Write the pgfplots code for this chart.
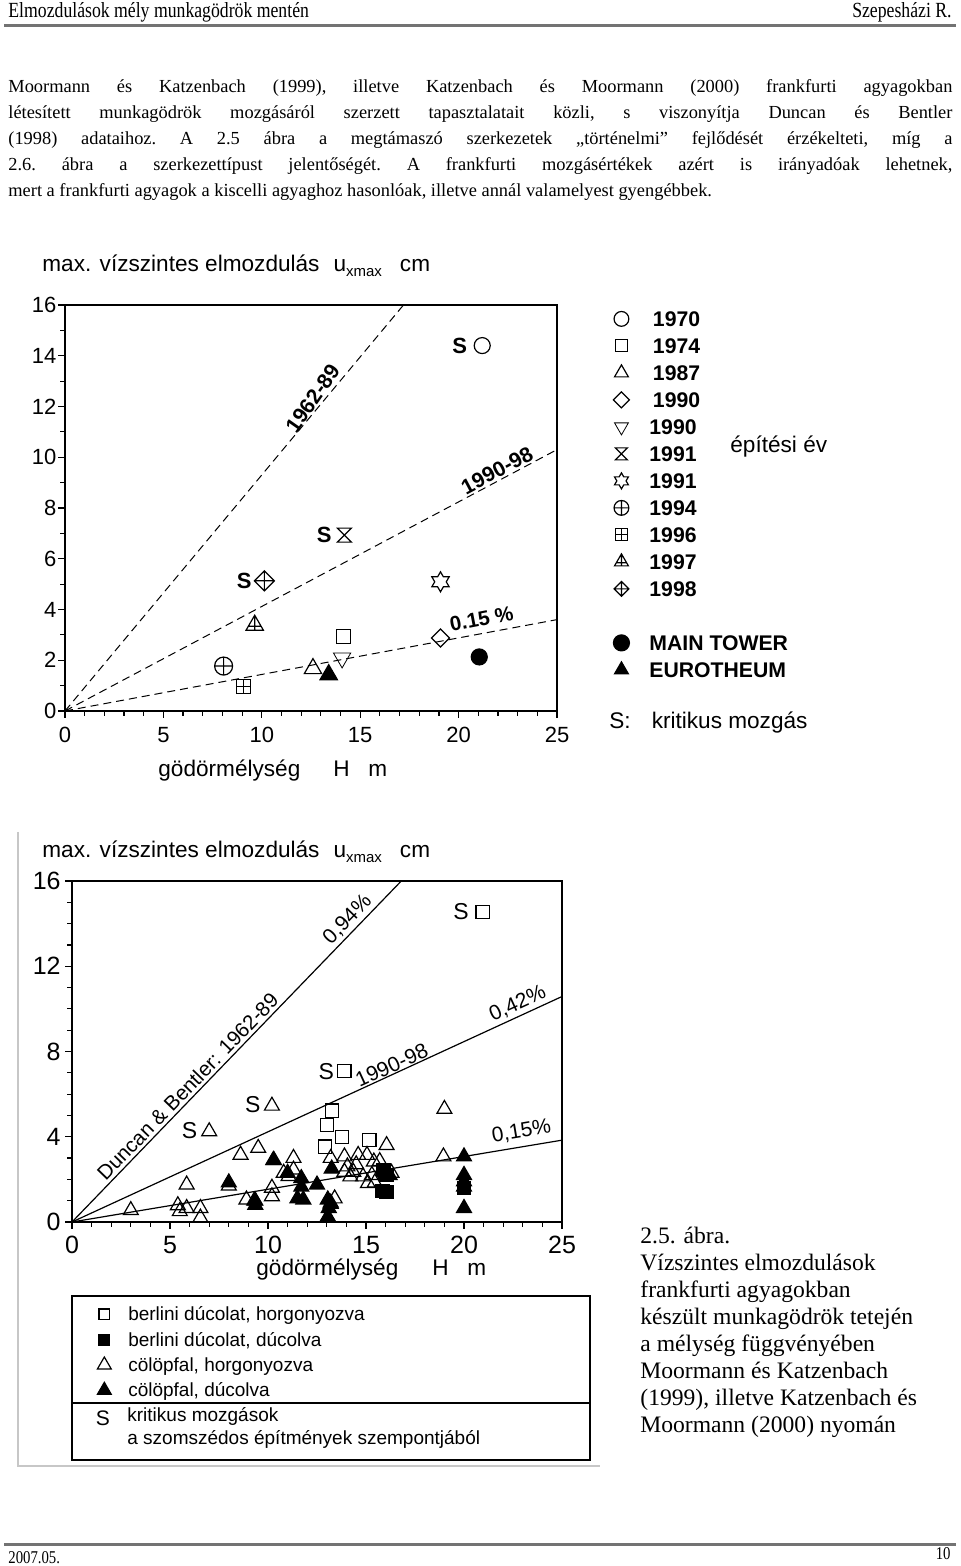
\documentclass[border=0pt]{standalone}
\usepackage{fontspec}
\setmainfont{Liberation Serif}
\setsansfont{Liberation Sans}
\newfontfamily\condfont{Liberation Serif}[FakeStretch=0.82]
\usepackage{pgfplots}
\pgfplotsset{compat=1.18}

\pgfdeclareplotmark{hourglass}{%
  \pgfpathmoveto{\pgfqpoint{-\pgfplotmarksize}{\pgfplotmarksize}}%
  \pgfpathlineto{\pgfqpoint{\pgfplotmarksize}{\pgfplotmarksize}}%
  \pgfpathlineto{\pgfqpoint{-\pgfplotmarksize}{-\pgfplotmarksize}}%
  \pgfpathlineto{\pgfqpoint{\pgfplotmarksize}{-\pgfplotmarksize}}%
  \pgfpathclose\pgfusepathqstroke}
\pgfdeclareplotmark{hexagram}{%
  \pgfpathmoveto{\pgfpointpolar{90}{\pgfplotmarksize}}%
  \pgfpathlineto{\pgfpointpolar{120}{0.577\pgfplotmarksize}}%
  \pgfpathlineto{\pgfpointpolar{150}{\pgfplotmarksize}}%
  \pgfpathlineto{\pgfpointpolar{180}{0.577\pgfplotmarksize}}%
  \pgfpathlineto{\pgfpointpolar{210}{\pgfplotmarksize}}%
  \pgfpathlineto{\pgfpointpolar{240}{0.577\pgfplotmarksize}}%
  \pgfpathlineto{\pgfpointpolar{270}{\pgfplotmarksize}}%
  \pgfpathlineto{\pgfpointpolar{300}{0.577\pgfplotmarksize}}%
  \pgfpathlineto{\pgfpointpolar{330}{\pgfplotmarksize}}%
  \pgfpathlineto{\pgfpointpolar{0}{0.577\pgfplotmarksize}}%
  \pgfpathlineto{\pgfpointpolar{30}{\pgfplotmarksize}}%
  \pgfpathlineto{\pgfpointpolar{60}{0.577\pgfplotmarksize}}%
  \pgfpathclose\pgfusepathqstroke}
\pgfdeclareplotmark{boxplus}{%
  \pgfpathrectangle{\pgfqpoint{-\pgfplotmarksize}{-\pgfplotmarksize}}{\pgfpoint{2\pgfplotmarksize}{2\pgfplotmarksize}}%
  \pgfpathmoveto{\pgfqpoint{-\pgfplotmarksize}{0pt}}\pgfpathlineto{\pgfqpoint{\pgfplotmarksize}{0pt}}%
  \pgfpathmoveto{\pgfqpoint{0pt}{-\pgfplotmarksize}}\pgfpathlineto{\pgfqpoint{0pt}{\pgfplotmarksize}}%
  \pgfusepathqstroke}
\pgfdeclareplotmark{triplus}{%
  \pgfpathmoveto{\pgfpoint{0pt}{\pgfplotmarksize}}%
  \pgfpathlineto{\pgfpoint{-0.866\pgfplotmarksize}{-0.5\pgfplotmarksize}}%
  \pgfpathlineto{\pgfpoint{0.866\pgfplotmarksize}{-0.5\pgfplotmarksize}}%
  \pgfpathclose
  \pgfpathmoveto{\pgfpoint{0pt}{\pgfplotmarksize}}\pgfpathlineto{\pgfpoint{0pt}{-0.5\pgfplotmarksize}}%
  \pgfpathmoveto{\pgfpoint{-0.635\pgfplotmarksize}{-0.1\pgfplotmarksize}}\pgfpathlineto{\pgfpoint{0.635\pgfplotmarksize}{-0.1\pgfplotmarksize}}%
  \pgfusepathqstroke}
\pgfdeclareplotmark{rhomb}{%
  \pgfpathmoveto{\pgfqpoint{0pt}{\pgfplotmarksize}}%
  \pgfpathlineto{\pgfqpoint{\pgfplotmarksize}{0pt}}%
  \pgfpathlineto{\pgfqpoint{0pt}{-\pgfplotmarksize}}%
  \pgfpathlineto{\pgfqpoint{-\pgfplotmarksize}{0pt}}%
  \pgfpathclose\pgfusepathqstroke}
\pgfdeclareplotmark{rhombplus}{%
  \pgfpathmoveto{\pgfqpoint{0pt}{\pgfplotmarksize}}%
  \pgfpathlineto{\pgfqpoint{\pgfplotmarksize}{0pt}}%
  \pgfpathlineto{\pgfqpoint{0pt}{-\pgfplotmarksize}}%
  \pgfpathlineto{\pgfqpoint{-\pgfplotmarksize}{0pt}}%
  \pgfpathclose
  \pgfpathmoveto{\pgfqpoint{-\pgfplotmarksize}{0pt}}\pgfpathlineto{\pgfqpoint{\pgfplotmarksize}{0pt}}%
  \pgfpathmoveto{\pgfqpoint{0pt}{-\pgfplotmarksize}}\pgfpathlineto{\pgfqpoint{0pt}{\pgfplotmarksize}}%
  \pgfusepathqstroke}

\newcommand\bodyfont{\fontsize{9.2}{12}\selectfont\frenchspacing}
\newcommand\capfont{\fontsize{11.8}{14}\selectfont}
\newcommand\lblfont{\sffamily\fontsize{11.3}{13}\selectfont}

\begin{document}
\begin{tikzpicture}
\path[use as bounding box, fill=white] (0,0) rectangle (480pt,783pt);

% ---------------- top chart ----------------
\begin{axis}[at={(32.5pt,427.5pt)}, anchor=south west, scale only axis,
  width=246pt, height=203pt,
  xmin=0, xmax=25, ymin=0, ymax=16,
  xtick={0,5,...,25}, ytick={0,2,...,16},
  minor x tick num=4, minor y tick num=1,
  tick align=outside, xtick pos=bottom, ytick pos=left,
  major tick length=3.5pt, minor tick length=2.3pt,
  axis line style={line width=0.9pt},
  every tick/.style={black, line width=0.6pt},
  ticklabel style={font=\sffamily\fontsize{11}{11}\selectfont},
  yticklabel style={inner sep=0.6pt},
  xticklabel style={inner sep=4.5pt},
  /pgf/number format/assume math mode=true,
  clip=false, legend cell align=left,
  legend image post style={yshift=2pt},
  legend style={at={(1.0833,1.0)}, anchor=north west, draw=none, fill=none,
    font=\sffamily\bfseries\fontsize{10.6}{11}\selectfont, row sep=0pt,
    /tikz/every odd column/.append style={column sep=9pt},
    nodes={inner sep=1pt, text height=7.5pt, text depth=4pt}},
  mark options={solid, line width=0.6pt}]
% lines
\addplot[black, forget plot, line width=0.5pt, dash pattern=on 4pt off 2.5pt] coordinates {(0,0) (17.2,16)};
\addplot[black, forget plot, line width=0.5pt, dash pattern=on 4pt off 2.5pt] coordinates {(0,0) (25,10.3)};
\addplot[black, forget plot, line width=0.5pt, dash pattern=on 4pt off 2.5pt] coordinates {(0,0) (25,3.6)};
% data
\addplot[black, only marks, forget plot, mark=o, mark size=4pt] coordinates {(21.2,14.4)};
\addplot[black, only marks, forget plot, mark=square, mark size=3.5pt] coordinates {(14.17,2.92)};
\addplot[black, only marks, forget plot, mark=triangle, mark size=5pt] coordinates {(12.6,1.67)};
\addplot[black, only marks, forget plot, mark=rhomb, mark size=4.5pt] coordinates {(19.08,2.88)};
\addplot[black, only marks, forget plot, mark=triangle, mark size=5pt, mark options={rotate=180}] coordinates {(14.08,2.09)};
\addplot[black, only marks, forget plot, mark=hourglass, mark size=3.5pt] coordinates {(14.2,6.93)};
\addplot[black, only marks, forget plot, mark=hexagram, mark size=5pt] coordinates {(19.08,5.09)};
\addplot[black, only marks, forget plot, mark=oplus, mark size=4.5pt] coordinates {(8.06,1.77)};
\addplot[black, only marks, forget plot, mark=boxplus, mark size=3.5pt] coordinates {(9.08,0.95)};
\addplot[black, only marks, forget plot, mark=triplus, mark size=5pt] coordinates {(9.64,3.38)};
\addplot[black, only marks, forget plot, mark=rhombplus, mark size=5pt] coordinates {(10.13,5.13)};
\addplot[black, only marks, forget plot, mark=*, mark size=4pt] coordinates {(21.05,2.13)};
\addplot[black, only marks, forget plot, mark=triangle*, mark size=5pt] coordinates {(13.4,1.43)};
% labels
\node[font=\sffamily\bfseries\fontsize{10.6}{11}\selectfont, rotate=55, anchor=south, inner sep=1pt] at (axis cs:13.0,12.09) {1962-89};
\node[font=\sffamily\bfseries\fontsize{10.6}{11}\selectfont, rotate=28, anchor=south, inner sep=1pt] at (axis cs:22.19,9.14) {1990-98};
\node[font=\sffamily\bfseries\fontsize{10.3}{11}\selectfont, rotate=11, anchor=south, inner sep=3pt] at (axis cs:21.3,3.1) {0.15 \%};
\node[font=\sffamily\bfseries\fontsize{11}{11}\selectfont] at (axis cs:20.05,14.4) {S};
\node[font=\sffamily\bfseries\fontsize{11}{11}\selectfont] at (axis cs:13.17,6.93) {S};
\node[font=\sffamily\bfseries\fontsize{11}{11}\selectfont] at (axis cs:9.11,5.13) {S};
% legend
\addlegendimage{black, only marks, mark=o, mark size=3.7pt}\addlegendentry{\,1970}
\addlegendimage{black, only marks, mark=square, mark size=3pt}\addlegendentry{\,1974}
\addlegendimage{black, only marks, mark=triangle, mark size=4pt}\addlegendentry{\,1987}
\addlegendimage{black, only marks, mark=rhomb, mark size=4pt}\addlegendentry{\,1990}
\addlegendimage{black, only marks, mark=triangle, mark size=4pt, mark options={rotate=180}}\addlegendentry{1990}
\addlegendimage{black, only marks, mark=hourglass, mark size=3pt}\addlegendentry{1991}
\addlegendimage{black, only marks, mark=hexagram, mark size=4pt}\addlegendentry{1991}
\addlegendimage{black, only marks, mark=oplus, mark size=3.7pt}\addlegendentry{1994}
\addlegendimage{black, only marks, mark=boxplus, mark size=3pt}\addlegendentry{1996}
\addlegendimage{black, only marks, mark=triplus, mark size=4pt}\addlegendentry{1997}
\addlegendimage{black, only marks, mark=rhombplus, mark size=3.7pt}\addlegendentry{1998}
\addlegendimage{empty legend}\addlegendentry{}
\addlegendimage{black, only marks, mark=*, mark size=4pt}\addlegendentry{MAIN TOWER}
\addlegendimage{black, only marks, mark=triangle*, mark size=4pt}\addlegendentry{EUROTHEUM}
\end{axis}

% ---------------- bottom chart ----------------
\begin{axis}[at={(36pt,172pt)}, anchor=south west, scale only axis,
  width=245pt, height=170.5pt,
  xmin=0, xmax=25, ymin=0, ymax=16,
  xtick={0,5,...,25}, ytick={0,4,...,16},
  minor x tick num=4, minor y tick num=3,
  tick align=outside, xtick pos=bottom, ytick pos=left,
  major tick length=3.5pt, minor tick length=2.3pt,
  axis line style={line width=0.9pt},
  every tick/.style={black, line width=0.6pt},
  ticklabel style={font=\sffamily\fontsize{12.5}{12.5}\selectfont},
  yticklabel style={inner sep=2pt},
  /pgf/number format/assume math mode=true,
  clip=false, legend cell align=left,
  legend image post style={yshift=1.5pt},
  legend style={at={(0.0388,-0.2298)}, anchor=north west, draw=none, fill=none,
    font=\sffamily\fontsize{9.5}{10}\selectfont, row sep=0pt,
    /tikz/every odd column/.append style={column sep=7.5pt},
    nodes={inner sep=1pt, text height=7pt, text depth=3.65pt}},
  mark options={solid, line width=0.6pt}]
\addplot[black, forget plot, line width=0.6pt] coordinates {(0,0) (16.8,16)};
\addplot[black, forget plot, line width=0.6pt] coordinates {(0,0) (25,10.58)};
\addplot[black, forget plot, line width=0.6pt] coordinates {(0,0) (25,3.84)};
% filled triangles: colopfal, ducolva
\addplot[black, only marks, forget plot, mark=triangle*, mark size=4.3pt] coordinates {
(8.0,1.85) (9.35,0.8) (9.35,1.0) (10.27,2.9) (11.7,2.05) (11.7,1.65) (11.8,1.05) (11.5,1.1)
(12.5,1.75) (13.25,2.5) (13.05,1.05) (13.1,0.65) (13.05,0.25) (13.2,0.85) (16.05,2.3) (16.2,2.2)
(20.0,3.07) (20.0,2.2) (20.0,1.9) (20.0,1.65) (20.0,0.65) (11.0,2.3)};
% filled squares: berlini ducolat, ducolva
\addplot[black, only marks, forget plot, mark=square*, mark size=3.3pt] coordinates {
(15.9,2.45) (16.05,2.2) (16.05,1.42) (15.85,1.45) (20.0,1.6)};
% open triangles: colopfal, horgonyozva
\addplot[black, only marks, forget plot, mark=triangle, mark size=4.3pt] coordinates {
(3.0,0.55) (5.4,0.78) (5.5,0.5) (5.85,0.65) (5.85,1.75) (6.55,0.65) (6.55,0.2) (8.6,3.15)
(9.5,3.47) (8.0,1.7) (8.9,1.05) (10.2,1.6) (10.2,1.2) (10.3,2.9) (11.3,3.0) (11.3,2.45)
(11.05,2.15) (10.8,2.3) (13.2,3.0) (13.9,3.07) (14.6,3.14) (15.05,3.14) (14.5,2.7) (15.4,2.83)
(15.7,2.85) (14.35,2.35) (14.2,2.13) (14.85,2.13) (15.1,1.82) (15.45,1.85) (13.4,1.1) (13.2,0.9)
(16.05,3.6) (19.0,5.3) (18.95,3.07) (13.9,2.35) (14.05,2.6) (16.3,2.3) (15.3,2.2) (9.3,1.0)
(7.0,4.25) (10.2,5.45)};
% open squares: berlini ducolat, horgonyozva
\addplot[black, only marks, forget plot, mark=square, mark size=3.3pt] coordinates {
(13.25,5.23) (13.0,4.55) (13.76,4.0) (12.9,3.54) (15.17,3.85) (13.9,7.08) (20.95,14.55)};
% labels
\node[font=\sffamily\fontsize{10.3}{11}\selectfont, rotate=46, anchor=south, inner sep=1.5pt] at (axis cs:6.3,6.0) {Duncan \& Bentler: 1962-89};
\node[font=\sffamily\fontsize{10.5}{11}\selectfont, rotate=46, anchor=south, inner sep=1.5pt] at (axis cs:14.5,13.8) {0,94\%};
\node[font=\sffamily\fontsize{10.5}{11}\selectfont, rotate=24.7, anchor=south, inner sep=1.5pt] at (axis cs:23.0,9.73) {0,42\%};
\node[font=\sffamily\fontsize{10.5}{11}\selectfont, rotate=24.7, anchor=south, inner sep=0.5pt] at (axis cs:16.5,6.98) {1990-98};
\node[font=\sffamily\fontsize{10.5}{11}\selectfont, rotate=9.5, anchor=south, inner sep=2.5pt] at (axis cs:23.05,3.6) {0,15\%};
\node[font=\sffamily\fontsize{11.5}{12}\selectfont] at (axis cs:19.85,14.55) {S};
\node[font=\sffamily\fontsize{11.5}{12}\selectfont] at (axis cs:12.97,7.08) {S};
\node[font=\sffamily\fontsize{11.5}{12}\selectfont] at (axis cs:9.22,5.53) {S};
\node[font=\sffamily\fontsize{11.5}{12}\selectfont] at (axis cs:6.0,4.28) {S};
% legend
\addlegendimage{black, only marks, mark=square, mark size=2.7pt}\addlegendentry{berlini dúcolat, horgonyozva}
\addlegendimage{black, only marks, mark=square*, mark size=2.7pt}\addlegendentry{berlini dúcolat, dúcolva}
\addlegendimage{black, only marks, mark=triangle, mark size=4pt}\addlegendentry{cölöpfal, horgonyozva}
\addlegendimage{black, only marks, mark=triangle*, mark size=4pt}\addlegendentry{cölöpfal, dúcolva}
\end{axis}

\begin{scope}[x=0.5pt, y=-0.5pt, yshift=783pt]
% header
\node[anchor=base west, inner sep=0] at (8,18) {\condfont\fontsize{10.8}{12}\selectfont Elmozdulások mély munkagödrök mentén};
\node[anchor=base east, inner sep=0] at (952,18) {\condfont\fontsize{10.8}{12}\selectfont Szepesházi R.};
\draw[line width=1.5pt, black!55] (4,26) -- (956,26);

% body text
\node[anchor=base west, inner sep=0] at (8,93) {\bodyfont\makebox[472pt][s]{Moormann és Katzenbach (1999), illetve Katzenbach és Moormann (2000) frankfurti agyagokban}};
\node[anchor=base west, inner sep=0] at (8,119) {\bodyfont\makebox[472pt][s]{létesített munkagödrök mozgásáról szerzett tapasztalatait közli, s viszonyítja Duncan és Bentler}};
\node[anchor=base west, inner sep=0] at (8,145) {\bodyfont\makebox[472pt][s]{(1998) adataihoz. A 2.5 ábra a megtámaszó szerkezetek „történelmi” fejlődését érzékelteti, míg a}};
\node[anchor=base west, inner sep=0] at (8,171) {\bodyfont\makebox[472pt][s]{2.6. ábra a szerkezettípust jelentőségét. A frankfurti mozgásértékek azért is irányadóak lehetnek,}};
\node[anchor=base west, inner sep=0] at (8,197) {\bodyfont mert a frankfurti agyagok a kiscelli agyaghoz hasonlóak, illetve annál valamelyest gyengébbek.};

% top chart texts
\node[anchor=base west, inner sep=0] at (42,272) {\lblfont max. vízszintes elmozdulás\hspace{7pt}u\raisebox{-0.35ex}{\fontsize{7.5}{8}\selectfont xmax}\hspace{9pt}cm};
\node[anchor=base west, inner sep=0] at (158,777) {\lblfont gödörmélység};
\node[anchor=base west, inner sep=0] at (333,777) {\lblfont H};
\node[anchor=base west, inner sep=0] at (368,777) {\lblfont m};
\node[anchor=west, inner sep=0] at (730,447) {\lblfont építési év};
\node[anchor=west, inner sep=0] at (609,723) {\lblfont S:\hspace{10.5pt}kritikus mozgás};

% bottom chart texts
\draw[black!22, line width=0.6pt] (18,832) -- (18,1466) -- (600,1466);
\node[anchor=base west, inner sep=0] at (42,858) {\lblfont max. vízszintes elmozdulás\hspace{7pt}u\raisebox{-0.35ex}{\fontsize{7.5}{8}\selectfont xmax}\hspace{9pt}cm};
\node[anchor=base west, inner sep=0] at (256,1276) {\lblfont gödörmélység};
\node[anchor=base west, inner sep=0] at (432,1276) {\lblfont H};
\node[anchor=base west, inner sep=0] at (467,1276) {\lblfont m};

% bottom legend frame and S entry
\draw[line width=0.6pt] (72,1296) rectangle (590,1460);
\draw[line width=0.6pt] (72,1403) -- (590,1403);
\node[inner sep=0] at (103,1418) {\sffamily\fontsize{10.5}{11}\selectfont S};
\node[anchor=west, inner sep=0] at (127,1416) {\sffamily\fontsize{9.5}{10}\selectfont kritikus mozgások};
\node[anchor=west, inner sep=0] at (127,1439) {\sffamily\fontsize{9.5}{10}\selectfont a szomszédos építmények szempontjából};

% caption
\node[anchor=base west, inner sep=0] at (640,1244) {\capfont 2.5. ábra.};
\node[anchor=base west, inner sep=0] at (640,1271) {\capfont Vízszintes elmozdulások};
\node[anchor=base west, inner sep=0] at (640,1298) {\capfont frankfurti agyagokban};
\node[anchor=base west, inner sep=0] at (640,1325) {\capfont készült munkagödrök tetején};
\node[anchor=base west, inner sep=0] at (640,1352) {\capfont a mélység függvényében};
\node[anchor=base west, inner sep=0] at (640,1379) {\capfont Moormann és Katzenbach};
\node[anchor=base west, inner sep=0] at (640,1406) {\capfont (1999), illetve Katzenbach és};
\node[anchor=base west, inner sep=0] at (640,1433) {\capfont Moormann (2000) nyomán};

% footer
\draw[line width=1.5pt, black!55] (4,1545) -- (956,1545);
\node[anchor=base west, inner sep=0] at (8,1563) {\condfont\fontsize{9}{10}\selectfont 2007.05.};
\node[anchor=base east, inner sep=0] at (951,1560) {\condfont\fontsize{9}{10}\selectfont 10};
\end{scope}
\end{tikzpicture}
\end{document}
